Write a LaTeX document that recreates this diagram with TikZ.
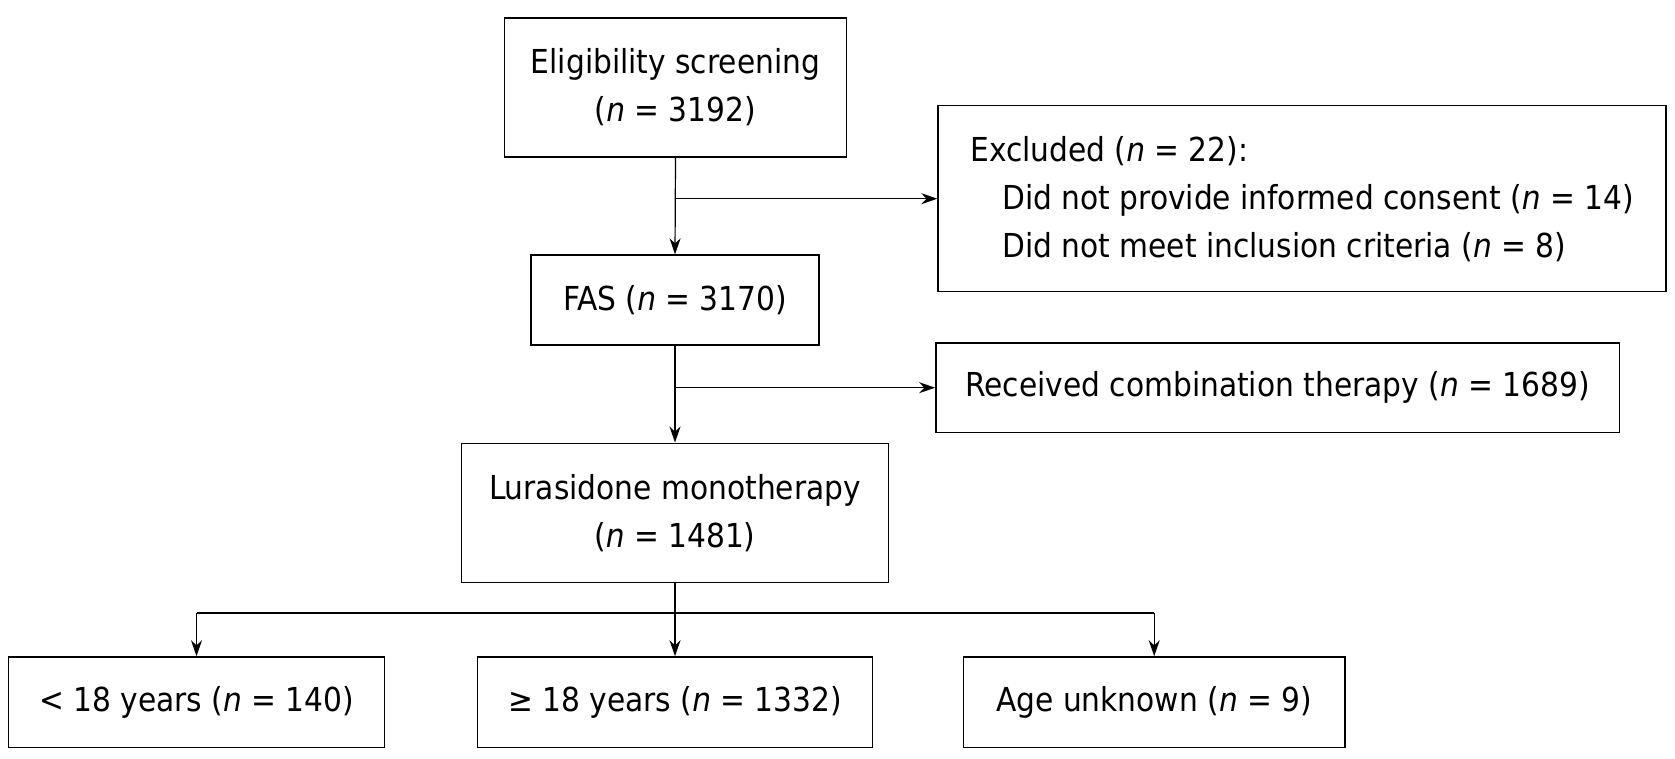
\documentclass[tikz,border=0pt]{standalone}
\usepackage{fontspec}
\setmainfont{DejaVu Sans Condensed}
\usetikzlibrary{arrows.meta}
\tikzset{
  flowbox/.style={draw, line width=0.7pt, inner sep=0pt, align=center,
    font=\fontsize{16.5pt}{24pt}\selectfont},
  flowarrow/.style={line width=0.6pt, -{Stealth[length=8pt,width=5.5pt]}}
}
\newcommand{\nn}{\textit{n}}
\begin{document}
\begin{tikzpicture}[x=0.5pt,y=-0.5pt]
        \useasboundingbox (0,0) rectangle (1675,759);

        % Draw the boxes of the main column
        \node[flowbox, minimum width=171pt, minimum height=69.5pt] (elig) at (675.5,87.5)
            {Eligibility screening\\(\nn{} = 3192)};
        \node[flowbox, minimum width=144pt, minimum height=45pt] (fas) at (675,300)
            {FAS (\nn{} = 3170)};
        \node[flowbox, minimum width=213.5pt, minimum height=69.5pt] (lura) at (675,512.7)
            {Lurasidone monotherapy\\(\nn{} = 1481)};

        % Draw the boxes on the right side
        \node[flowbox, align=left, minimum width=364pt, minimum height=93pt] (excl) at (1302,198.7)
            {Excluded (\nn{} = 22):\\
             \hspace*{16pt}Did not provide informed consent (\nn{} = 14)\\
             \hspace*{16pt}Did not meet inclusion criteria (\nn{} = 8)};
        \node[flowbox, minimum width=341.8pt, minimum height=44.9pt] (recv) at (1277.6,387.7)
            {Received combination therapy (\nn{} = 1689)};

        % Draw the age groups
        \node[flowbox, minimum width=188pt, minimum height=45.4pt] (young) at (196.5,702.3)
            {< 18 years (\nn{} = 140)};
        \node[flowbox, minimum width=197.6pt, minimum height=45.4pt] (adult) at (675,702.3)
            {≥ 18 years (\nn{} = 1332)};
        \node[flowbox, minimum width=190.7pt, minimum height=45.4pt] (unk) at (1154.2,702.3)
            {Age unknown (\nn{} = 9)};

        % Draw the arrows
        \draw[flowarrow] (elig.south) -- (fas.north);
        \draw[flowarrow] (elig.south |- excl.west) -- (excl.west);
        \draw[flowarrow] (fas.south) -- (lura.north);
        \draw[flowarrow] (fas.south |- recv.west) -- (recv.west);
        \coordinate (split) at (675,613);
        \draw[flowarrow] (lura.south) -- (adult.north);
        \draw[line width=0.6pt] (split -| young.north) -- (split -| unk.north);
        \draw[flowarrow] (split -| young.north) -- (young.north);
        \draw[flowarrow] (split -| unk.north) -- (unk.north);
    \end{tikzpicture}
\end{document}
